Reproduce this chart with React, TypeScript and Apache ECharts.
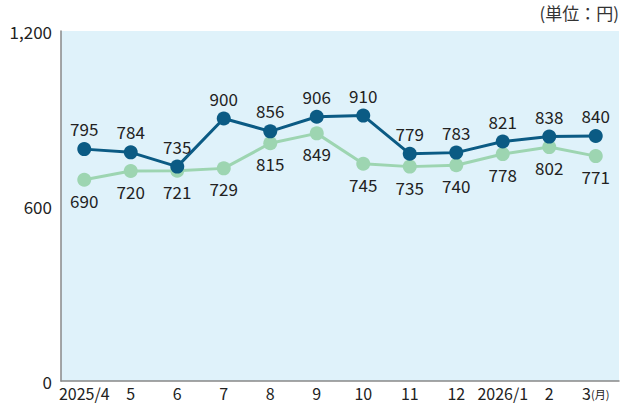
import React, { useEffect, useRef } from "react";
import * as echarts from "echarts";

const categories = ["2025/4", "5", "6", "7", "8", "9", "10", "11", "12", "2026/1", "2", "3"];
const seriesDark = [795, 784, 735, 900, 856, 906, 910, 779, 783, 821, 838, 840];
const seriesLight = [690, 720, 721, 729, 815, 849, 745, 735, 740, 778, 802, 771];
const yTicks = [0, 600, 1200];

const FONT = "'Noto Sans CJK JP', 'Noto Sans', sans-serif";

export default function App() {
  const ref = useRef<HTMLDivElement>(null);
  useEffect(() => {
    if (!ref.current) return;
    const chart = echarts.init(ref.current, undefined, { renderer: "svg" });
    chart.setOption({
      animation: false,
      textStyle: { fontFamily: FONT },
      grid: {
        left: 61,
        right: 3,
        top: 31,
        bottom: 26,
        show: true,
        backgroundColor: "#dff2fa",
        borderWidth: 0,
      },
      graphic: [
        {
          type: "text",
          right: 3,
          top: 4,
          style: { text: "(単位：円)", fontSize: 17, fill: "#333", fontFamily: FONT },
        },
      ],
      xAxis: {
        type: "category",
        data: categories,
        boundaryGap: true,
        axisLine: { show: true, lineStyle: { color: "#888", width: 1.5 } },
        axisTick: { show: false },
        axisLabel: {
          color: "#222",
          fontSize: 16,
          margin: 4,
          interval: 0,
          fontFamily: FONT,
          formatter: (v: string, i: number) => (i === categories.length - 1 ? `${v}{u|(月)}` : v),
          rich: { u: { fontSize: 11, color: "#222", fontFamily: FONT, padding: [2, 0, 0, 0] } },
        },
      },
      yAxis: {
        type: "value",
        min: 0,
        max: 1200,
        interval: 600,
        axisLine: { show: true, lineStyle: { color: "#888", width: 1.5 } },
        axisTick: { show: false },
        splitLine: { show: false },
        axisLabel: {
          color: "#222",
          fontSize: 17,
          margin: 9,
          fontFamily: FONT,
          formatter: (v: number) => (yTicks.includes(v) ? v.toLocaleString("en-US") : ""),
        },
      },
      series: [
        {
          type: "line",
          data: seriesLight,
          symbol: "circle",
          symbolSize: 14,
          itemStyle: { color: "#9dd5b1" },
          lineStyle: { color: "#9dd5b1", width: 3 },
          label: {
            show: true,
            position: "bottom",
            distance: 5,
            color: "#222",
            fontSize: 17,
            fontFamily: FONT,
          },
          z: 2,
        },
        {
          type: "line",
          data: seriesDark,
          symbol: "circle",
          symbolSize: 14,
          itemStyle: { color: "#0b5b84" },
          lineStyle: { color: "#0b5b84", width: 3 },
          label: {
            show: true,
            position: "top",
            distance: 5,
            color: "#222",
            fontSize: 17,
            fontFamily: FONT,
          },
          z: 3,
        },
      ],
    });
    return () => chart.dispose();
  }, []);
  return (
    <div
      ref={ref}
      style={{ position: "absolute", left: 0, top: 0, width: 622, height: 407 }}
    />
  );
}
